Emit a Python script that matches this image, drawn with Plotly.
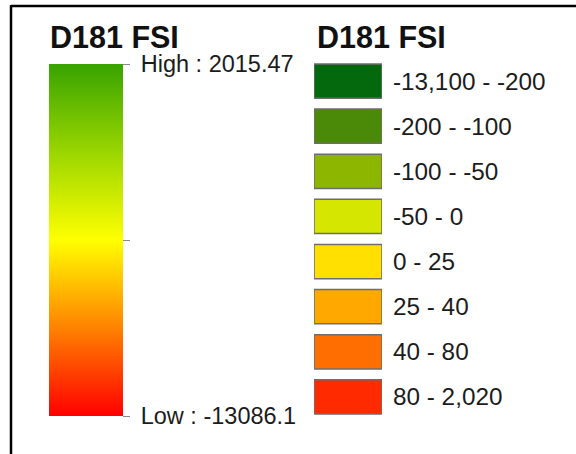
import plotly.graph_objects as go

# ---- data ----
title_text = "D181 FSI"
gradient_low = -13086.1
gradient_high = 2015.47
gradient_tick_labels = ["Low : -13086.1", "", "High : 2015.47"]
class_labels = ["-13,100 - -200", "-200 - -100", "-100 - -50", "-50 - 0",
                "0 - 25", "25 - 40", "40 - 80", "80 - 2,020"]
class_colors = ["#03690c", "#4b8a08", "#8cb600", "#d5e600",
                "#ffe000", "#ffa800", "#ff6e00", "#ff2a00"]
class_sizes = [1, 1, 1, 1, 1, 1, 1, 1]

W, H = 576, 454
def px(x):
    return x / W
def py(y):
    return 1 - y / H

gradient_scale = [[0.0, "#ff0000"], [0.25, "#ff8200"], [0.5, "#ffff00"],
                  [0.75, "#9ad600"], [1.0, "#38a300"]]

FONT = "Liberation Sans, Arial, sans-serif"
PAD = "\u00a0"

fig = go.Figure()

# class swatches as horizontal bars
fig.add_trace(go.Bar(
    y=class_labels, x=class_sizes, orientation="h",
    marker=dict(color=class_colors, line=dict(color="#6e6e6e", width=1.5)),
    width=0.76, xaxis="x", yaxis="y", showlegend=False, hoverinfo="skip",
))

# stretched gradient as a colorbar
mid = (gradient_low + gradient_high) / 2
fig.add_trace(go.Scatter(
    x=[None], y=[None], mode="markers", showlegend=False, hoverinfo="skip",
    marker=dict(
        color=[gradient_low, gradient_high], cmin=gradient_low, cmax=gradient_high,
        colorscale=gradient_scale, showscale=True,
        colorbar=dict(
            x=px(49), xanchor="left", xpad=0, ypad=0,
            y=py(240), yanchor="middle",
            lenmode="pixels", len=352, thickness=74, thicknessmode="pixels",
            outlinewidth=0,
            tickmode="array",
            tickvals=[gradient_low, mid, gradient_high],
            ticktext=[(PAD + t) if t else t for t in gradient_tick_labels],
            ticks="outside", ticklen=7, tickcolor="#8a8a8a", tickwidth=1.2,
            tickfont=dict(family=FONT, size=23.5, color="#1c1c1c"),
        ),
    ),
    xaxis="x", yaxis="y",
))

fig.update_layout(
    width=W, height=H,
    margin=dict(l=0, r=0, t=0, b=0),
    paper_bgcolor="white", plot_bgcolor="rgba(0,0,0,0)",
    xaxis=dict(domain=[px(314), px(382)], range=[0, 1], visible=False, fixedrange=True),
    yaxis=dict(domain=[py(419.5), py(58.5)], autorange="reversed", side="right",
               showgrid=False, zeroline=False, showline=False, ticks="",
               ticklabelstandoff=10,
               tickfont=dict(family=FONT, size=24.3, color="#1c1c1c")),
    annotations=[
        dict(text="<b>" + title_text + "</b>", x=px(48), y=py(37), xref="paper", yref="paper",
             xanchor="left", yanchor="middle", showarrow=False,
             font=dict(family=FONT, size=30.5, color="#111111")),
        dict(text="<b>" + title_text + "</b>", x=px(315), y=py(37), xref="paper", yref="paper",
             xanchor="left", yanchor="middle", showarrow=False,
             font=dict(family=FONT, size=30.5, color="#111111")),
    ],
    shapes=[
        dict(type="line", xref="paper", yref="paper", x0=px(11), x1=1.0, y0=py(6), y1=py(6),
             line=dict(color="black", width=2.5)),
        dict(type="line", xref="paper", yref="paper", x0=px(11), x1=px(11), y0=py(5), y1=0.0,
             line=dict(color="black", width=2.5)),
    ],
)

fig.write_html("out.html", config={"displayModeBar": False},
               post_script="document.body.style.margin='0';")
